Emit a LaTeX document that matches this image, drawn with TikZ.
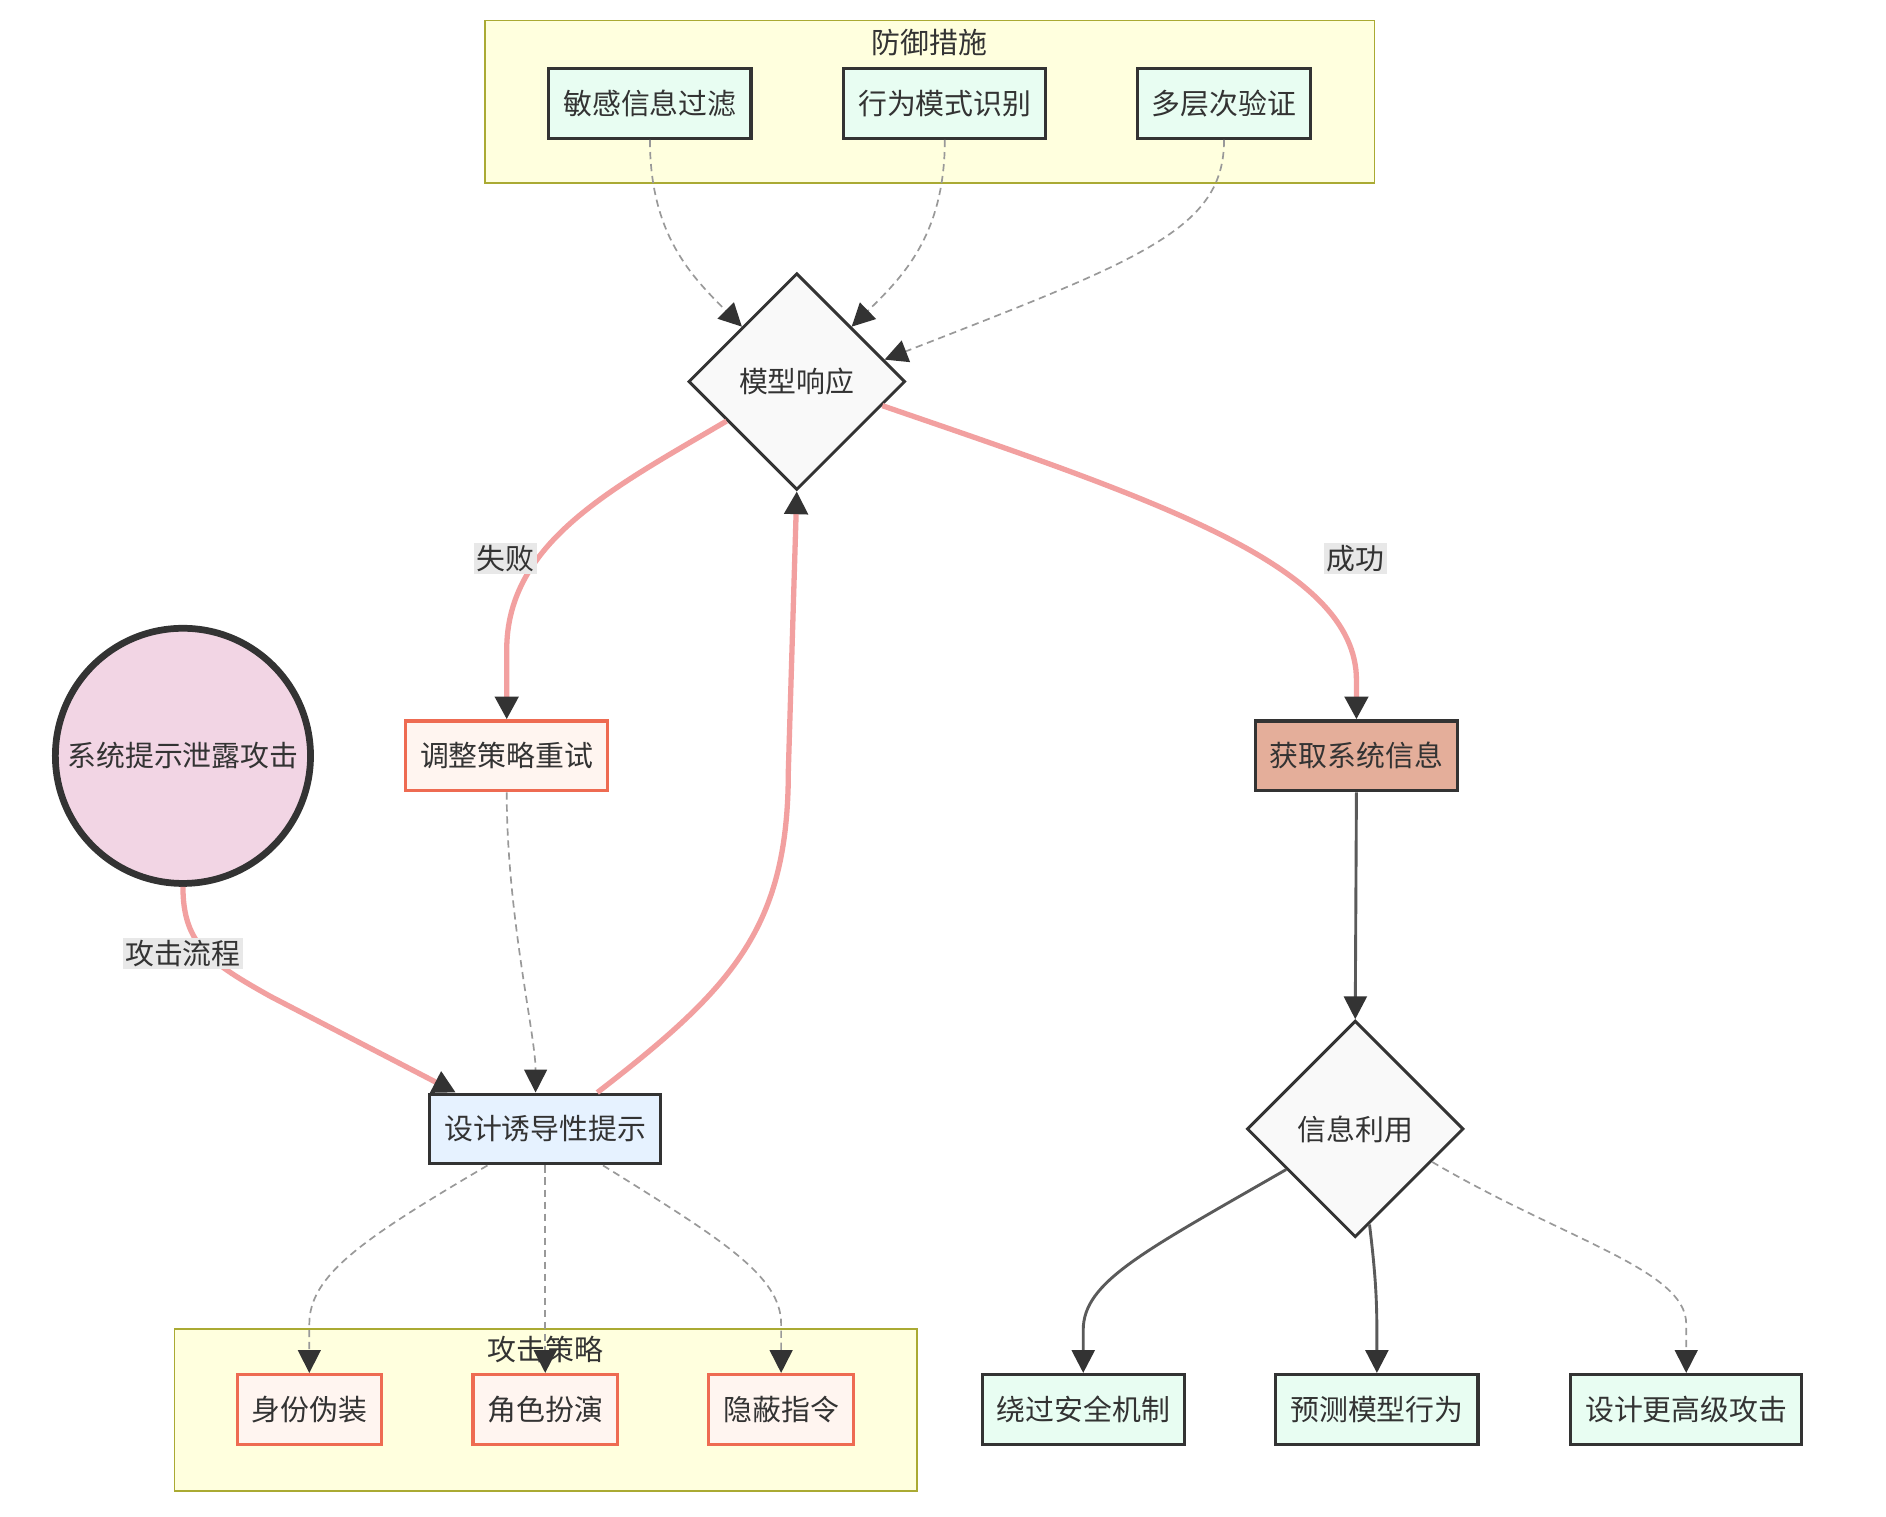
\documentclass[tikz,border=0pt]{standalone}
\usepackage{fontspec}
\setmainfont{Noto Sans CJK SC}
\usetikzlibrary{arrows.meta,shapes.geometric,calc}
\definecolor{txt}{HTML}{333333}
\definecolor{clfill}{HTML}{FFFFDE}
\definecolor{cldraw}{HTML}{AAAA33}
\definecolor{mint}{HTML}{E8FDF2}
\definecolor{peach}{HTML}{FFF5F0}
\definecolor{orangered}{HTML}{EE6B52}
\definecolor{lightblue}{HTML}{E6F2FF}
\definecolor{salmon}{HTML}{E4AE9A}
\definecolor{pinkfill}{HTML}{F2D5E4}
\definecolor{diafill}{HTML}{F9F9F9}
\definecolor{pinkedge}{HTML}{F2A0A0}
\definecolor{dashc}{HTML}{999999}
\definecolor{solidc}{HTML}{5A5A5A}
\definecolor{lblbg}{HTML}{E8E8E8}
\tikzset{
  tip/.style={-{Triangle[length=9.5pt,width=9.5pt,color=txt]}},
  box/.style={rectangle, draw=txt, line width=1.3pt, text=txt, minimum height=29pt, inner xsep=6pt, inner ysep=0pt, font=\fontsize{12}{14}\selectfont},
  mintbox/.style={box, fill=mint},
  peachbox/.style={box, fill=peach, draw=orangered},
  dia/.style={diamond, aspect=1, draw=txt, fill=diafill, line width=1.2pt, text=txt, minimum width=90pt, minimum height=90pt, inner sep=0pt, font=\fontsize{12}{14}\selectfont},
  cluster/.style={draw=cldraw, fill=clfill, line width=0.7pt},
  cltitle/.style={text=txt, font=\fontsize{12}{14}\selectfont, inner sep=0pt},
  pinkline/.style={tip, draw=pinkedge, line width=2.2pt},
  dashline/.style={tip, draw=dashc, line width=0.7pt, dash pattern=on 3pt off 2pt},
  solidline/.style={tip, draw=solidc, line width=1.2pt},
  lbl/.style={fill=lblbg, text=txt, font=\fontsize{12}{14}\selectfont, inner xsep=1pt, inner ysep=1pt},
}
\begin{document}
\begin{tikzpicture}[x=0.5pt,y=-0.5pt]
\useasboundingbox (0,0) rectangle (1567,1259.6);
\fill[white] (0,0) rectangle (1567,1259.6);

% clusters
\draw[cluster] (403,17) rectangle (1142,152);
\node[cltitle] (deftitle) at (772,35) {防御措施};
\draw[cluster] (145,1104) rectangle (762,1239);
\node[cltitle] (attitle) at (453,1121) {攻击策略};

% defense nodes
\node[mintbox] (d1) at (540,86) {敏感信息过滤};
\node[mintbox] (d2) at (785,86) {行为模式识别};
\node[mintbox] (d3) at (1017,86) {多层次验证};

% diamonds
\node[dia] (R) at (662,317) {模型响应};
\node[dia] (U) at (1126,938) {信息利用};

% circle
\node[circle, draw=txt, fill=pinkfill, line width=2.8pt, text=txt, minimum size=106pt, inner sep=0pt, font=\fontsize{12}{14}\selectfont] (S) at (152,628) {系统提示泄露攻击};

% middle nodes
\node[peachbox] (A) at (421,628) {调整策略重试};
\node[box, fill=salmon] (G) at (1127,628) {获取系统信息};
\node[box, fill=lightblue] (D) at (453,938) {设计诱导性提示};

% strategy nodes
\node[peachbox] (s1) at (257,1171) {身份伪装};
\node[peachbox] (s2) at (453,1171) {角色扮演};
\node[peachbox] (s3) at (649,1171) {隐蔽指令};

% outcome nodes
\node[mintbox] (o1) at (900,1171) {绕过安全机制};
\node[mintbox] (o2) at (1144,1171) {预测模型行为};
\node[mintbox] (o3) at (1401,1171) {设计更高级攻击};

% defense edges
\draw[dashline] (d1.south) .. controls (540,195) and (575,230) .. ($(R.north)!0.5!(R.west)$);
\draw[dashline] (d2.south) .. controls (785,195) and (750,230) .. ($(R.north)!0.5!(R.east)$);
\draw[dashline] (d3.south) .. controls (1017,190) and (950,215) .. ($(R.north)!0.8!(R.east)$);

% attack flow
\draw[pinkline] (S.south) .. controls (152,785) and (175,800) .. (225,828) -- ([xshift=11.5pt]D.north west);
\node[lbl] (l1) at (152,792) {攻击流程};

\draw[pinkline] ([xshift=-27pt]D.north east) .. controls (610,820) and (655,770) .. (655,640) -- (R.south);

\draw[pinkline] ($(R.west)!0.36!(R.south)$) .. controls (510,405) and (421,450) .. (421,540) -- (A.north);
\node[lbl] (l2) at (420,464) {失败};

\draw[pinkline] ($(R.east)!0.22!(R.south)$) .. controls (960,415) and (1127,470) .. (1127,565) -- (G.north);
\node[lbl] (l3) at (1126,464) {成功};

\draw[dashline] (A.south) .. controls (421,760) and (445,860) .. ([xshift=-4pt]D.north);

\draw[solidline] (G.south) -- (U.north);

\draw[solidline] ($(U.west)!0.37!(U.south)$) .. controls (950,1040) and (900,1065) .. (900,1105) -- (o1.north);
\draw[solidline] ($(U.south)!0.13!(U.east)$) .. controls (1143,1060) and (1144,1080) .. (1144,1110) -- (o2.north);
\draw[dashline] ($(U.east)!0.3!(U.south)$) .. controls (1300,1030) and (1401,1055) .. (1401,1100) -- (o3.north);

\draw[dashline] ([xshift=-24pt]D.south) .. controls (300,1030) and (257,1060) .. (257,1100) -- (s1.north);
\draw[dashline] (D.south) -- (s2.north);
\draw[dashline] ([xshift=24pt]D.south) .. controls (600,1030) and (649,1060) .. (649,1100) -- (s3.north);
\end{tikzpicture}
\end{document}
